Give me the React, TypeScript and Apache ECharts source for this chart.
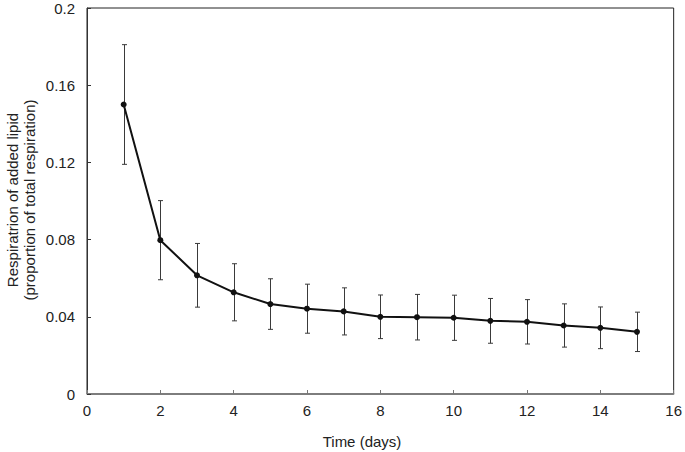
import React, { useEffect, useRef } from "react";
import * as echarts from "echarts";

const days = [1, 2, 3, 4, 5, 6, 7, 8, 9, 10, 11, 12, 13, 14, 15];
const means = [0.150, 0.0797, 0.0615, 0.0527, 0.0466, 0.0442, 0.0428, 0.0400, 0.0398, 0.0395, 0.0379, 0.0374, 0.0355, 0.0343, 0.0322];
const errors = [0.031, 0.0205, 0.0165, 0.0148, 0.0131, 0.0127, 0.0122, 0.0113, 0.0118, 0.0117, 0.0116, 0.0115, 0.0112, 0.0108, 0.0102];

const xTitle = "Time (days)";
const yTitleLine1 = "Respiratrion of added lipid";
const yTitleLine2 = "(proportion of total respiration)";

const FONT = '"Liberation Sans", Arial, Helvetica, sans-serif';

export default function App() {
  const ref = useRef<HTMLDivElement>(null);
  useEffect(() => {
    if (!ref.current) return;
    const chart = echarts.init(ref.current, null, { renderer: "svg" });
    const lineData = days.map((d, i) => [d, means[i]]);
    const errData = days.map((d, i) => [d, means[i] - errors[i], means[i] + errors[i]]);
    chart.setOption({
      animation: false,
      backgroundColor: "#ffffff",
      textStyle: { fontFamily: FONT },
      grid: {
        left: 87,
        right: 8,
        top: 8,
        bottom: 58,
        show: true,
        borderColor: "#222",
        borderWidth: 1,
        backgroundColor: "transparent",
      },
      xAxis: {
        type: "value",
        min: 0,
        max: 16,
        interval: 2,
        splitLine: { show: false },
        axisLine: { show: true, lineStyle: { color: "#777", width: 1.5 } },
        axisTick: { show: true, inside: true, length: 4, lineStyle: { color: "#777" } },
        axisLabel: { color: "#222", fontSize: 15, margin: 9, fontFamily: FONT },
      },
      yAxis: {
        type: "value",
        min: 0,
        max: 0.2,
        interval: 0.04,
        splitLine: { show: false },
        axisLine: { show: true, lineStyle: { color: "#333", width: 1 } },
        axisTick: { show: true, inside: true, length: 4, lineStyle: { color: "#333" } },
        axisLabel: {
          color: "#222",
          fontSize: 15,
          margin: 12,
          fontFamily: FONT,
          formatter: (v: number) => String(parseFloat(v.toFixed(2))),
        },
      },
      graphic: [
        {
          type: "text",
          x: 362,
          y: 441,
          style: {
            text: xTitle,
            fill: "#222",
            font: `15px ${FONT}`,
            align: "center",
            verticalAlign: "middle",
          },
        },
        {
          type: "text",
          x: 21,
          y: 200,
          rotation: Math.PI / 2,
          style: {
            text: yTitleLine1 + "\n" + yTitleLine2,
            fill: "#222",
            font: `15px ${FONT}`,
            lineHeight: 16.5,
            align: "center",
            verticalAlign: "middle",
          },
        },
      ],
      series: [
        {
          type: "custom",
          data: errData,
          z: 1,
          renderItem: (params: any, api: any) => {
            const x = api.value(0);
            const lo = api.coord([x, api.value(1)]);
            const hi = api.coord([x, api.value(2)]);
            const cx = Math.round(lo[0]) + 0.5;
            const hw = 2.5;
            const style = { stroke: "#3a3a3a", lineWidth: 1 };
            return {
              type: "group",
              children: [
                { type: "line", shape: { x1: cx, y1: hi[1], x2: cx, y2: lo[1] }, style },
                { type: "line", shape: { x1: cx - hw, y1: hi[1], x2: cx + hw, y2: hi[1] }, style },
                { type: "line", shape: { x1: cx - hw, y1: lo[1], x2: cx + hw, y2: lo[1] }, style },
              ],
            };
          },
        },
        {
          type: "line",
          data: lineData,
          z: 2,
          symbol: "circle",
          symbolSize: 6,
          itemStyle: { color: "#111" },
          lineStyle: { color: "#111", width: 2 },
        },
      ],
    });
    return () => chart.dispose();
  }, []);
  return (
    <div
      ref={ref}
      style={{ position: "fixed", left: 0, top: 0, width: 685, height: 452, background: "#fff" }}
    />
  );
}
